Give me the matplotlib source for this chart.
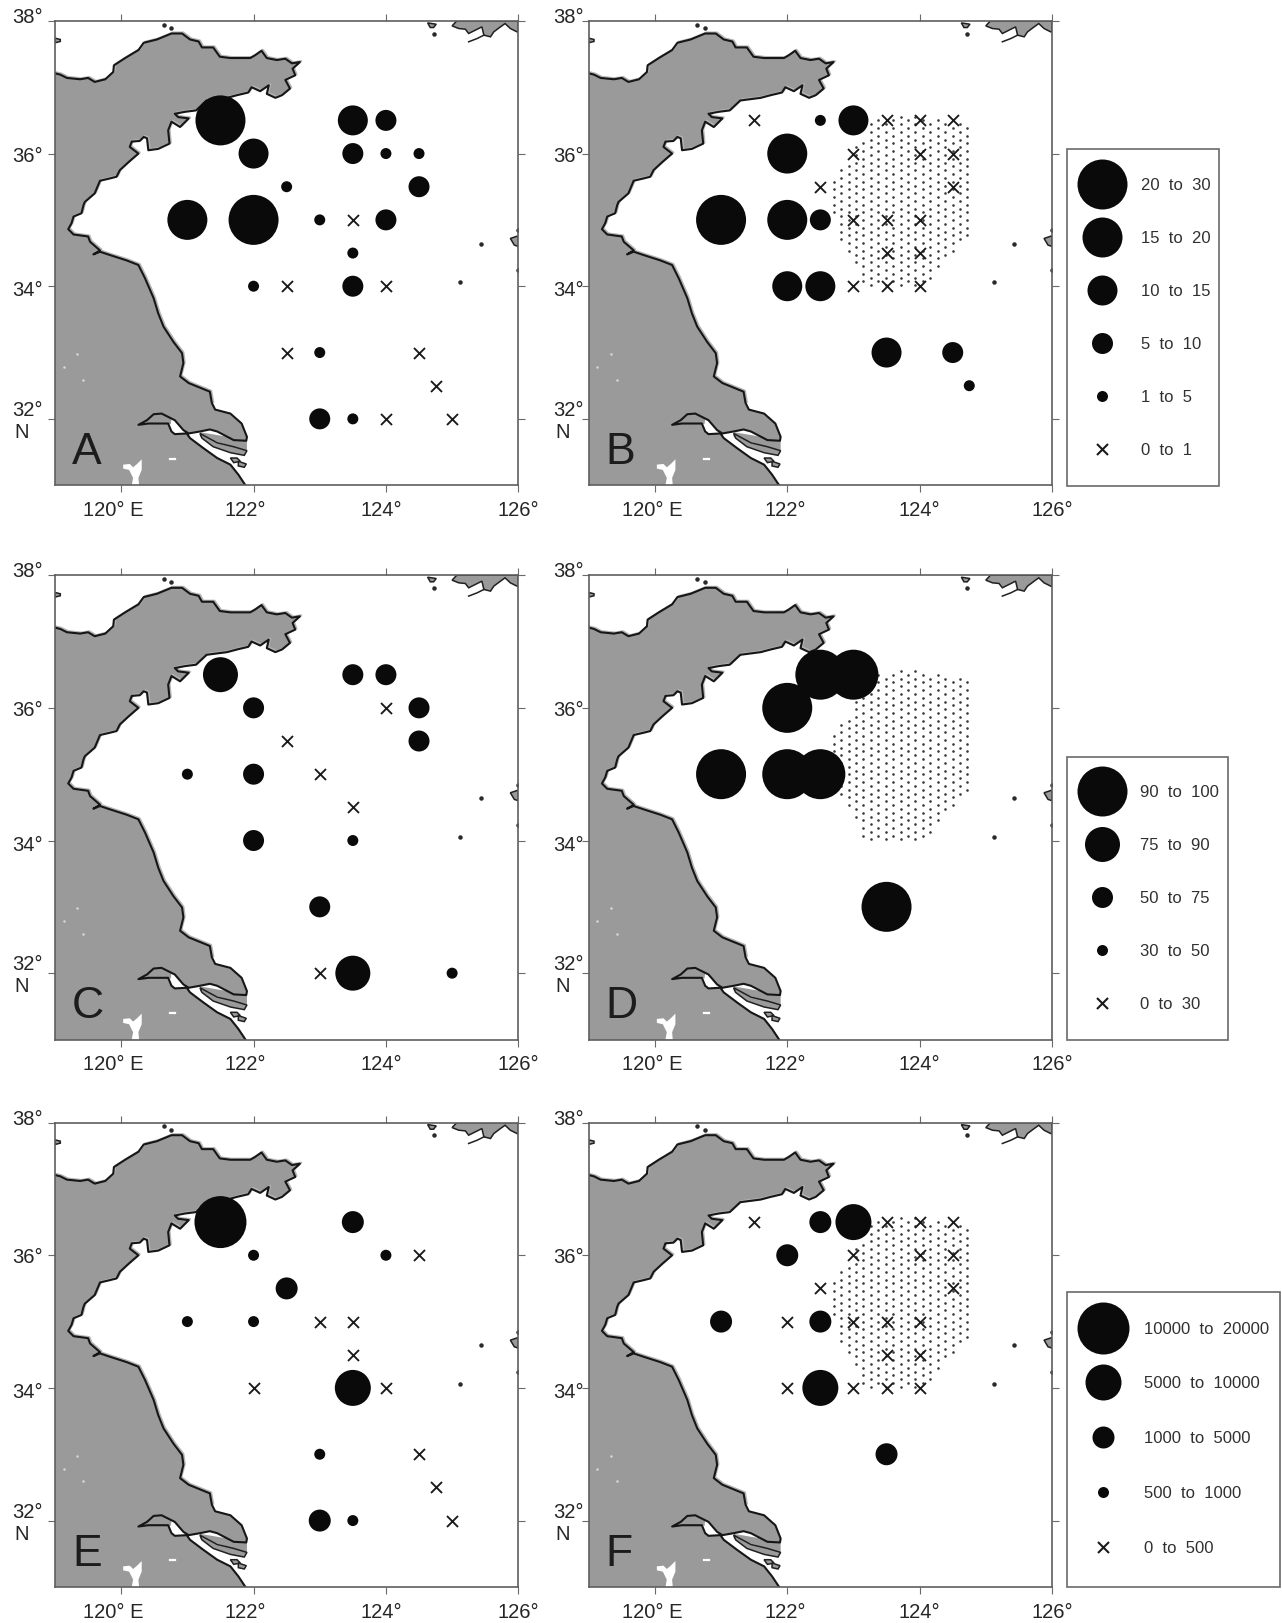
#!/usr/bin/env python3

import matplotlib

matplotlib.use("Agg")
import matplotlib.pyplot as plt
import matplotlib.transforms as mtransforms
import numpy as np
from matplotlib.path import Path
from matplotlib.patches import Polygon, Rectangle

plt.rcParams["font.family"] = ["Liberation Sans", "DejaVu Sans"]

# main coast, lon/lat, from the left edge round to the bottom edge
coast_lon = [119.0, 119.08, 119.18, 119.38, 119.50, 119.60, 119.76, 119.88, 119.89, 120.06, 120.26, 120.34,
             120.54, 120.76, 120.92, 121.04, 121.17, 121.22, 121.39, 121.49, 121.65, 121.95, 122.02, 122.12,
             122.20, 122.35, 122.48, 122.58, 122.70, 122.59, 122.63, 122.48, 122.55, 122.43, 122.33, 122.20,
             122.23, 122.10, 121.97, 121.92, 121.75, 121.60, 121.29, 121.13, 120.97, 120.81, 120.86, 121.02,
             120.89, 120.76, 120.71, 120.73, 120.56, 120.41, 120.39, 120.34, 120.28, 120.16, 120.13, 120.26,
             120.11, 119.98, 119.93, 119.81, 119.68, 119.60, 119.45, 119.43, 119.40, 119.28, 119.25, 119.20,
             119.28, 119.50, 119.53, 119.68, 119.58, 119.68, 119.83, 120.08, 120.26, 120.36, 120.49, 120.56,
             120.64, 120.79, 120.92, 120.94, 120.89, 121.02, 121.34, 121.37, 121.42, 121.65, 121.82, 121.90,
             121.89, 121.70, 121.45, 121.34, 121.19, 121.02, 120.94, 120.81, 120.61, 120.49, 120.39, 120.26,
             120.41, 120.71, 120.76, 120.81, 120.99, 121.04, 121.24, 121.45, 121.65, 121.77, 121.89]
coast_lat = [37.21, 37.19, 37.14, 37.12, 37.14, 37.08, 37.12, 37.23, 37.33, 37.44, 37.56, 37.67,
             37.72, 37.81, 37.81, 37.72, 37.69, 37.60, 37.60, 37.46, 37.44, 37.44, 37.48, 37.55,
             37.44, 37.41, 37.43, 37.36, 37.38, 37.28, 37.18, 37.11, 36.98, 36.88, 36.84, 36.90,
             37.03, 36.94, 37.00, 36.92, 36.88, 36.84, 36.80, 36.65, 36.63, 36.60, 36.55, 36.53,
             36.40, 36.48, 36.35, 36.15, 36.07, 36.05, 36.23, 36.25, 36.19, 36.18, 36.10, 36.00,
             35.87, 35.75, 35.65, 35.62, 35.59, 35.40, 35.27, 35.22, 35.10, 35.05, 34.95, 34.86,
             34.78, 34.75, 34.67, 34.54, 34.48, 34.52, 34.47, 34.39, 34.32, 34.12, 33.82, 33.59,
             33.39, 33.16, 32.99, 32.84, 32.64, 32.54, 32.41, 32.24, 32.14, 32.08, 31.93, 31.73,
             31.67, 31.68, 31.81, 31.84, 31.81, 31.78, 31.83, 31.98, 32.08, 32.07, 31.98, 31.91,
             31.93, 31.93, 31.81, 31.77, 31.78, 31.71, 31.56, 31.41, 31.31, 31.16, 30.98]

# grey part of the Yangtze above the white channel
estuary_lon = [120.26, 120.39, 120.49, 120.61, 120.76, 120.75, 120.65, 120.41]
estuary_lat = [31.91, 31.98, 32.07, 32.08, 32.0, 31.92, 31.93, 31.93]
shoal_lon = [121.19, 121.90, 121.90, 121.19]
shoal_lat = [31.80, 31.68, 31.52, 31.73]

islands = [
    ([121.19, 121.45, 121.70, 121.90, 121.86, 121.65, 121.39, 121.22], [31.78, 31.64, 31.58, 31.52, 31.45, 31.49, 31.58, 31.71]),
    ([121.65, 121.75, 121.80, 121.70], [31.41, 31.41, 31.36, 31.34]),
    ([121.77, 121.89, 121.86, 121.77], [31.36, 31.32, 31.27, 31.29]),
    ([125.07, 125.0, 125.1, 125.2, 125.25, 125.35, 125.45, 125.48, 125.58, 125.63, 125.73, 125.8, 125.88, 125.98, 126.0, 126.0],
     [38.0, 37.925, 37.885, 37.875, 37.81, 37.86, 37.91, 37.785, 37.76, 37.835, 37.91, 37.96, 37.885, 37.835, 37.835, 38.0]),
    ([119.0, 119.08, 119.08, 119.0], [37.74, 37.72, 37.69, 37.67]),
    ([124.63, 124.76, 124.72, 124.67], [37.97, 37.95, 37.90, 37.90]),
    ([125.88, 126.0, 126.0, 125.94], [34.72, 34.76, 34.60, 34.62]),
]
islet_lon = [124.72, 120.64, 120.76, 125.43, 125.12, 126.0, 126.0]
islet_lat = [37.81, 37.945, 37.89, 34.64, 34.06, 34.84, 34.24]
reef_lon = [125.25, 125.38, 125.48]
reef_lat = [37.685, 37.735, 37.785]

lake_lon = [120.03, 120.13, 120.18, 120.24, 120.31, 120.31, 120.26, 120.27, 120.16, 120.18, 120.12, 120.03]
lake_lat = [31.31, 31.32, 31.27, 31.32, 31.39, 31.23, 31.11, 31.0, 31.0, 31.11, 31.23, 31.25]
pond_lon = [119.33, 119.43, 119.13]
pond_lat = [32.98, 32.59, 32.78]

# outline of the stippled area in panels B, D, F
stipple_lon = [123.26, 123.72, 124.73, 124.74, 124.5, 124.4, 124.27, 124.15, 123.72, 123.16, 123.04, 122.81, 122.58, 122.68, 122.93, 123.04, 123.24]
stipple_lat = [36.49, 36.59, 36.46, 34.73, 34.53, 34.5, 34.2, 34.03, 33.95, 34.03, 34.35, 34.70, 35.36, 35.66, 35.86, 36.11, 36.36]

# stations: class 0 is a cross, higher classes are bigger circles
a_lon = [121.5, 123.5, 124, 122, 123.5, 124, 124.5, 122.5, 124.5, 121, 122, 123, 123.5, 124, 123.5, 122, 122.5, 123.5, 124, 122.5, 123, 124.5, 124.75, 123, 123.5, 124, 125]
a_lat = [36.5, 36.5, 36.5, 36, 36, 36, 36, 35.5, 35.5, 35, 35, 35, 35, 35, 34.5, 34, 34, 34, 34, 33, 33, 33, 32.5, 32, 32, 32, 32]
a_cls = [5, 3, 2, 3, 2, 1, 1, 1, 2, 4, 5, 1, 0, 2, 1, 1, 0, 2, 0, 0, 1, 0, 0, 2, 1, 0, 0]

b_lon = [121.5, 122.5, 123, 123.5, 124, 124.5, 122, 123, 124, 124.5, 122.5, 124.5, 121, 122, 122.5, 123, 123.5, 124, 123.5, 124, 122, 122.5, 123, 123.5, 124, 123.5, 124.5, 124.75]
b_lat = [36.5, 36.5, 36.5, 36.5, 36.5, 36.5, 36, 36, 36, 36, 35.5, 35.5, 35, 35, 35, 35, 35, 35, 34.5, 34.5, 34, 34, 34, 34, 34, 33, 33, 32.5]
b_cls = [0, 1, 3, 0, 0, 0, 4, 0, 0, 0, 0, 0, 5, 4, 2, 0, 0, 0, 0, 0, 3, 3, 0, 0, 0, 3, 2, 1]

c_lon = [121.5, 123.5, 124, 122, 124, 124.5, 122.5, 124.5, 121, 122, 123, 123.5, 122, 123.5, 123, 123, 123.5, 125]
c_lat = [36.5, 36.5, 36.5, 36, 36, 36, 35.5, 35.5, 35, 35, 35, 34.5, 34, 34, 33, 32, 32, 32]
c_cls = [3, 2, 2, 2, 0, 2, 0, 2, 1, 2, 0, 0, 2, 1, 2, 0, 3, 1]

d_lon = [122.5, 123, 122, 121, 122, 122.5, 123.5]
d_lat = [36.5, 36.5, 36, 35, 35, 35, 33]
d_cls = [4, 4, 4, 4, 4, 4, 4]

e_lon = [121.5, 123.5, 122, 124, 124.5, 122.5, 121, 122, 123, 123.5, 123.5, 122, 123.5, 124, 123, 124.5, 124.75, 123, 123.5, 125]
e_lat = [36.5, 36.5, 36, 36, 36, 35.5, 35, 35, 35, 35, 34.5, 34, 34, 34, 33, 33, 32.5, 32, 32, 32]
e_cls = [4, 2, 1, 1, 0, 2, 1, 1, 0, 0, 0, 0, 3, 0, 1, 0, 0, 2, 1, 0]

f_lon = [121.5, 122.5, 123, 123.5, 124, 124.5, 122, 123, 124, 124.5, 122.5, 124.5, 121, 122, 122.5, 123, 123.5, 124, 123.5, 124, 122, 122.5, 123, 123.5, 124, 123.5]
f_lat = [36.5, 36.5, 36.5, 36.5, 36.5, 36.5, 36, 36, 36, 36, 35.5, 35.5, 35, 35, 35, 35, 35, 35, 34.5, 34.5, 34, 34, 34, 34, 34, 33]
f_cls = [0, 2, 3, 0, 0, 0, 2, 0, 0, 0, 0, 0, 2, 0, 2, 0, 0, 0, 0, 0, 0, 3, 0, 0, 0, 2]

# circle diameters in pixels for each class of the three legends
sizes_ab = [11, 11, 21, 30, 40, 50]
sizes_cd = [11, 11, 21, 35, 50]
sizes_ef = [11, 11, 22, 36, 52]

legend_ab = ["20  to  30", "15  to  20", "10  to  15", "5  to  10", "1  to  5", "0  to  1"]
legend_cd = ["90  to  100", "75  to  90", "50  to  75", "30  to  50", "0  to  30"]
legend_ef = ["10000  to  20000", "5000  to  10000", "1000  to  5000", "500  to  1000", "0  to  500"]

xtick_vals = [120, 122, 124, 126]
ytick_vals = [32, 34, 36, 38]
xtick_text = ["120° E", "122°", "124°", "126°"]
ytick_text = ["32°", "34°", "36°", "38°"]

FIG_W, FIG_H = 1282, 1623
DARK = "#0a0a0a"
LAND = "#9a9a9a"
FRAME = "#5f5f5f"
TEXT = "#262626"


def px_to_area(diameter):
    return (diameter * 72 / 100) ** 2


def draw_stations(ax, lon, lat, cls, sizes):
    lon, lat, cls = np.array(lon), np.array(lat), np.array(cls)
    mask = cls == 0
    ax.scatter(lon[mask], lat[mask], marker="x", s=px_to_area(sizes[0]), color="#1a1a1a", linewidths=1.35, zorder=6)
    diam = np.array(sizes)[cls[~mask]]
    ax.scatter(lon[~mask], lat[~mask], s=px_to_area(diam), color=DARK, linewidths=0, zorder=7)


def draw_land(ax):
    corner_lon = coast_lon + [119.0]
    corner_lat = coast_lat + [30.98]
    ax.add_patch(Polygon(np.column_stack([corner_lon, corner_lat]), facecolor=LAND, edgecolor="none", zorder=1))
    ax.add_patch(Polygon(np.column_stack([estuary_lon, estuary_lat]), facecolor=LAND, edgecolor="none", zorder=1))
    ax.add_patch(Polygon(np.column_stack([shoal_lon, shoal_lat]), facecolor=LAND, edgecolor="none", zorder=1))
    # pale rim just outside the coast, the scan has the fill slightly off the line
    rim = mtransforms.offset_copy(ax.transData, fig=fig, x=1.3, y=1.0, units="dots")
    ax.plot(coast_lon[:92], coast_lat[:92], color="#b4b4b4", linewidth=1.5, transform=rim, zorder=2)
    ax.plot(coast_lon, coast_lat, color="#161616", linewidth=1.5, solid_joinstyle="round", zorder=3)
    for lons, lats in islands:
        ax.add_patch(Polygon(np.column_stack([lons, lats]), facecolor=LAND, edgecolor="#202020", linewidth=1.1, zorder=3))
    ax.plot(reef_lon, reef_lat, color="#202020", linewidth=1.1, zorder=3)
    ax.scatter(islet_lon, islet_lat, s=px_to_area(4.5), color="#2a2a2a", linewidths=0, zorder=3)
    ax.add_patch(Polygon(np.column_stack([lake_lon, lake_lat]), facecolor="white", edgecolor="none", zorder=2))
    ax.scatter(pond_lon, pond_lat, s=px_to_area(2.5), color="#d8d8d8", linewidths=0, zorder=2)
    ax.plot([120.74, 120.82], [31.40, 31.40], color="white", linewidth=1.6, zorder=2)


def draw_stipple(ax):
    outline = Path(np.column_stack([stipple_lon, stipple_lat]))
    # the pattern itself: a staggered screen, only its outline comes from the picture
    cols = np.arange(122.59, 124.80, 0.1122)
    rows = np.arange(33.90, 36.70, 0.1155)
    grid = []
    for i, col in enumerate(cols):
        for row in rows:
            grid.append((col, row + (i % 2) * 0.0577))
    grid = np.array(grid)
    inside = grid[outline.contains_points(grid)]
    ax.scatter(inside[:, 0], inside[:, 1], s=px_to_area(2.6), color="#383838", linewidths=0, zorder=4)


def draw_panel(rect, letter, lon, lat, cls, sizes, stipple, ylab_dx, xlab_dx):
    left, top, width, height = rect
    ax = fig.add_axes([left / FIG_W, 1 - (top + height) / FIG_H, width / FIG_W, height / FIG_H])
    ax.set_xlim(119, 126)
    ax.set_ylim(31, 38)
    ax.set_xticks(xtick_vals)
    ax.set_yticks(ytick_vals)
    ax.tick_params(which="both", top=True, bottom=True, left=True, right=True, length=5, width=0.8, color="#6a6a6a",
                   labelbottom=False, labelleft=False)
    for spine in ax.spines.values():
        spine.set_color(FRAME)
        spine.set_linewidth(1.2)
        spine.set_zorder(8)

    draw_land(ax)
    if stipple:
        draw_stipple(ax)
    draw_stations(ax, lon, lat, cls, sizes)

    for val, label, dx in zip(xtick_vals, xtick_text, xlab_dx):
        ax.annotate(label, (val, 31), xytext=(dx, -31), textcoords="offset pixels", ha="center", va="baseline",
                    fontsize=14.5, color=TEXT, annotation_clip=False)
    for val, label, dy in zip(ytick_vals, ytick_text, [3, -10, -8, -2]):
        ax.annotate(label, (119, val), xytext=(ylab_dx, dy), textcoords="offset pixels", ha="right", va="baseline",
                    fontsize=14.5, color=TEXT, annotation_clip=False)
    ax.annotate("N", (119, 32), xytext=(ylab_dx - 21, -19), textcoords="offset pixels", ha="center", va="baseline",
                fontsize=14.5, color=TEXT, annotation_clip=False)
    ax.annotate(letter, (119, 31), xytext=(17, 21), textcoords="offset pixels", ha="left", va="baseline",
                fontsize=32, color="#1c1c1c", zorder=9, annotation_clip=False)
    return ax


def draw_legend(overlay, box, circle_x, text_x, ys, labels, sizes):
    x0, y0, x1, y1 = box
    overlay.add_patch(Rectangle((x0, y0), x1 - x0, y1 - y0, facecolor="white", edgecolor="#6a6a6a", linewidth=1.2))
    order = sizes[:0:-1] + [sizes[0]]
    for i, (y, label, size) in enumerate(zip(ys, labels, order)):
        if i == len(labels) - 1:
            overlay.scatter([circle_x], [y], marker="x", s=px_to_area(size), color="#1a1a1a", linewidths=1.5)
        else:
            overlay.scatter([circle_x], [y], s=px_to_area(size), color=DARK, linewidths=0)
        overlay.text(text_x, y, label, ha="left", va="center_baseline", fontsize=12, color="#303030")


fig = plt.figure(figsize=(FIG_W / 100, FIG_H / 100), dpi=100, facecolor="white")

PANEL_W, PANEL_H = 463.3, 464.3
COL_X = [55, 588.7]
ROW_Y = [20.9, 575.2, 1122.6]
LEFT_XLAB = [-8, -8, -4.5, 0]
RIGHT_XLAB = [-3, -2, 0, 0]

draw_panel((COL_X[0], ROW_Y[0], PANEL_W, PANEL_H), "A", a_lon, a_lat, a_cls, sizes_ab, False, -12, LEFT_XLAB)
draw_panel((COL_X[1], ROW_Y[0], PANEL_W, PANEL_H), "B", b_lon, b_lat, b_cls, sizes_ab, True, -5, RIGHT_XLAB)
draw_panel((COL_X[0], ROW_Y[1], PANEL_W, PANEL_H), "C", c_lon, c_lat, c_cls, sizes_cd, False, -12, LEFT_XLAB)
draw_panel((COL_X[1], ROW_Y[1], PANEL_W, PANEL_H), "D", d_lon, d_lat, d_cls, sizes_cd, True, -5, RIGHT_XLAB)
draw_panel((COL_X[0], ROW_Y[2], PANEL_W, PANEL_H), "E", e_lon, e_lat, e_cls, sizes_ef, False, -12, LEFT_XLAB)
draw_panel((COL_X[1], ROW_Y[2], PANEL_W, PANEL_H), "F", f_lon, f_lat, f_cls, sizes_ef, True, -5, RIGHT_XLAB)

overlay = fig.add_axes([0, 0, 1, 1], facecolor="none")
overlay.set_xlim(0, FIG_W)
overlay.set_ylim(FIG_H, 0)
overlay.axis("off")
draw_legend(overlay, (1067.3, 149.3, 1219.3, 486), 1102, 1141, [184.3, 237, 290, 343.3, 396, 449.3], legend_ab, sizes_ab)
draw_legend(overlay, (1067.3, 756.7, 1227.7, 1040), 1101.7, 1140, [791, 844, 897, 950, 1003.3], legend_cd, sizes_cd)
draw_legend(overlay, (1067.3, 1291.7, 1280, 1586.7), 1102.7, 1143.5, [1327.7, 1382.3, 1437.3, 1492, 1546.7], legend_ef, sizes_ef)

fig.savefig("out.png", dpi=100, facecolor="white")
